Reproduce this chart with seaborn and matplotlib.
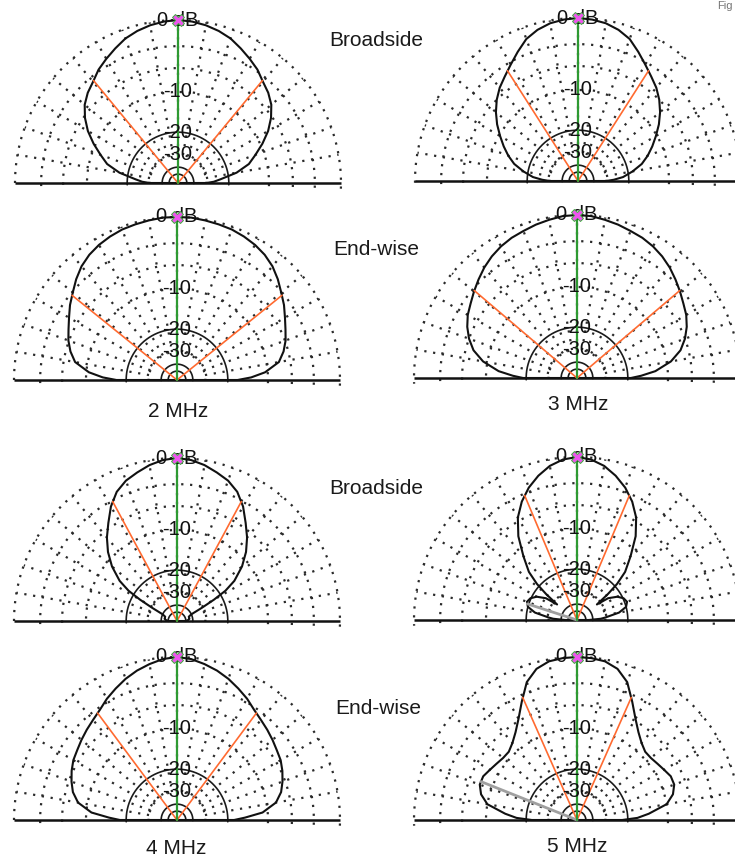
import numpy as np
import matplotlib
matplotlib.use("Agg")
import matplotlib.pyplot as plt
import seaborn as sns

# ---------------- data (elevation angle in degrees, relative gain in dB) ----------------
ANG = [0, 2, 5, 10, 15, 20, 25, 30, 35, 40, 45, 50, 55, 60, 65, 70, 75, 80, 85, 90]

DB_2MHZ_BROAD = [-30, -26, -23, -17.3, -13.7, -11.7, -9.6, -7.7, -6.2, -5.0,
                 -4.2, -3.6, -2.8, -2.2, -1.6, -1.0, -0.6, -0.3, -0.1, 0]
DB_3MHZ_BROAD = [-30, -26, -22, -18.5, -15.5, -13.5, -11.8, -10.2, -8.6, -7.2,
                 -6.0, -5.0, -4.2, -3.3, -2.3, -1.3, -0.7, -0.3, -0.1, 0]
DB_2MHZ_END = [-17, -13.5, -10.5, -7.8, -6.7, -5.9, -5.3, -4.6, -3.8, -3.1,
               -2.3, -1.6, -1.1, -0.75, -0.5, -0.3, -0.2, -0.1, 0, 0]
DB_3MHZ_END = [-19, -16, -12.5, -9.2, -7.2, -6.0, -5.1, -4.4, -3.9, -3.3,
               -2.7, -2.1, -1.6, -1.2, -0.9, -0.7, -0.45, -0.25, -0.05, 0]

ANG_4MHZ_BROAD = [0, 5, 10, 15, 20, 25, 28, 30, 32, 35, 40, 45, 50, 55, 60, 65, 70, 75, 80, 85, 90]
DB_4MHZ_BROAD = [-50, -46, -44, -44, -44, -40, -30, -23, -18, -14.5, -11.2,
                 -8.8, -6.9, -5.3, -3.6, -2.3, -1.5, -1.0, -0.5, -0.15, 0]

ANG_5MHZ_BROAD = [0, 3, 5, 10, 15, 20, 25, 30, 35, 38, 40, 42, 45, 50, 55, 60, 65, 70, 75, 80, 85, 90]
DB_5MHZ_BROAD = [-45, -33, -30, -23, -20, -19.2, -19.8, -21.5, -25, -32, -24, -19,
                 -15, -11.5, -8, -5.5, -3.8, -2.5, -1.5, -0.7, -0.2, 0]

DB_4MHZ_END = [-18, -15, -11, -8.3, -7.1, -6.4, -5.8, -5.3, -5.0, -4.6,
               -4.2, -3.8, -3.3, -2.6, -2.0, -1.4, -0.9, -0.5, -0.15, 0]
DB_5MHZ_END = [-22, -17, -14, -10, -8.5, -7.8, -7.8, -8.3, -8.7, -9.0,
               -9.0, -8.3, -7.2, -5.7, -3.8, -1.8, -0.7, -0.2, -0.05, 0]

# -3 dB beamwidth marker angles (orange) and secondary-lobe marker angles (gray)
BW_ANGLES = [50.5, 57.4, 38.9, 40.4, 61.7, 67.2, 53.4, 66.1]
LOBE_ANGLES = [None, None, None, None, None, 18.0, None, 21.8]

GRID_DOTTED_DB = [0, -3, -6, -10, -30]
GRID_SOLID_DB = [-20, -40, -50]
GRID_LABELS = ["-10", "-20", "-30"]
GRID_LABEL_DB = [-10, -20, -30]

CAPTIONS = ["Broadside", "End-wise", "2 MHz", "3 MHz", "Broadside", "End-wise", "4 MHz", "5 MHz"]

# ---------------- figure ----------------
sns.set_theme(style="white")
plt.rcParams['font.family'] = ['Liberation Sans', 'DejaVu Sans']

W, H = 735, 859
fig = plt.figure(figsize=(W / 100, H / 100), dpi=100)
fig.patch.set_facecolor("white")


def arrl(db):
    """ARRL log-periodic radial scale: radius shrinks by 0.89 per 2 dB."""
    return 0.89 ** (-np.asarray(db, dtype=float) / 2.0)


panels = [
    dict(cx=178, cy=183, ang=ANG, db=DB_2MHZ_BROAD, bw=BW_ANGLES[0], lobe=LOBE_ANGLES[0]),
    dict(cx=578, cy=181, ang=ANG, db=DB_3MHZ_BROAD, bw=BW_ANGLES[1], lobe=LOBE_ANGLES[1]),
    dict(cx=177, cy=380, ang=ANG, db=DB_2MHZ_END, bw=BW_ANGLES[2], lobe=LOBE_ANGLES[2]),
    dict(cx=577, cy=378, ang=ANG, db=DB_3MHZ_END, bw=BW_ANGLES[3], lobe=LOBE_ANGLES[3]),
    dict(cx=177, cy=621, ang=ANG_4MHZ_BROAD, db=DB_4MHZ_BROAD, bw=BW_ANGLES[4], lobe=LOBE_ANGLES[4]),
    dict(cx=577, cy=620, ang=ANG_5MHZ_BROAD, db=DB_5MHZ_BROAD, bw=BW_ANGLES[5], lobe=LOBE_ANGLES[5]),
    dict(cx=177, cy=820, ang=ANG, db=DB_4MHZ_END, bw=BW_ANGLES[6], lobe=LOBE_ANGLES[6]),
    dict(cx=577, cy=820, ang=ANG, db=DB_5MHZ_END, bw=BW_ANGLES[7], lobe=LOBE_ANGLES[7]),
]

R = 163
DOT = (0, (1, 3.0))
GRID_COL = "#2a2a2a"

for p in panels:
    cx, cy = p["cx"], p["cy"]
    ax = fig.add_axes([(cx - R) / W, (H - cy) / H, 2 * R / W, R / H])
    ax.set_xlim(-1, 1)
    ax.set_ylim(0, 1)
    ax.set_axis_off()

    t = np.radians(np.linspace(-2, 182, 500))
    for d in GRID_DOTTED_DB:
        r = arrl(d)
        ax.plot(r * np.cos(t), r * np.sin(t), ls=DOT, lw=1.6, color=GRID_COL, clip_on=False)
    for d in GRID_SOLID_DB:
        r = arrl(d)
        ax.plot(r * np.cos(t), r * np.sin(t), ls="-", lw=1.2, color="#1a1a1a", clip_on=False)
    r_in = arrl(-30)
    for a in range(10, 180, 10):
        ar = np.radians(a)
        ax.plot([r_in * np.cos(ar), np.cos(ar)], [r_in * np.sin(ar), np.sin(ar)],
                ls=DOT, lw=1.6, color=GRID_COL, clip_on=False)

    # ground line
    ax.plot([-1, 1], [0, 0], color="#111111", lw=1.8, clip_on=False, solid_capstyle="butt")

    # pattern (mirror of the 0-90 deg readings onto 90-180 deg)
    ang = np.asarray(p["ang"], dtype=float)
    db = np.asarray(p["db"], dtype=float)
    full_ang = np.concatenate([ang, 180 - ang[::-1][1:]])
    full_db = np.concatenate([db, db[::-1][1:]])
    rr = arrl(full_db)
    th = np.radians(full_ang)
    xs = np.concatenate([[0], rr * np.cos(th), [0]])
    ys = np.concatenate([[0], rr * np.sin(th), [0]])
    sns.lineplot(x=xs, y=ys, sort=False, estimator=None, color="#111111", lw=1.5, ax=ax)
    ax.lines[-1].set_clip_on(False)

    # -3 dB beamwidth lines
    rb = arrl(np.interp(p["bw"], ang, db))
    for a in (p["bw"], 180 - p["bw"]):
        ar = np.radians(a)
        ax.plot([0, rb * np.cos(ar)], [0, rb * np.sin(ar)], color="#ff6a30", lw=1.2, clip_on=False)

    # secondary lobe marker
    if p["lobe"] is not None:
        rl = arrl(np.interp(p["lobe"], ang, db))
        ar = np.radians(180 - p["lobe"])
        ax.plot([0, rl * np.cos(ar)], [0, rl * np.sin(ar)], color="#a0a0a0", lw=2.0, clip_on=False)

    # max gain direction
    ax.plot([0, 0], [0, 1], color="#2e9a32", lw=1.6, clip_on=False)

    # grid labels
    for lab, d in zip(GRID_LABELS, GRID_LABEL_DB):
        ax.text(0, arrl(d), lab, ha="center", va="center", fontsize=14.5, color="#111111",
                clip_on=False, zorder=5)
    ax.text(0, 1.0, "0 dB", ha="center", va="center", fontsize=14.5, color="#111111",
            clip_on=False, zorder=5)
    ax.plot([0], [1.0], marker="X", ms=8, color="#ee55ee", mec="#3fae3f", mew=0.7,
            clip_on=False, zorder=6)

# captions
cap_pos = [(376, 40), (376, 249), (178, 411), (578, 405),
           (376, 488), (378, 708), (176, 849), (577, 847)]
for txt, (x, y) in zip(CAPTIONS, cap_pos):
    fig.text(x / W, 1 - y / H, txt, ha="center", va="center", fontsize=15, color="#1a1a1a")

fig.text(733 / W, 1 - 1 / H, "Fig", ha="right", va="top", fontsize=8, color="#777777")

fig.savefig("out.png", dpi=100, facecolor="white")
